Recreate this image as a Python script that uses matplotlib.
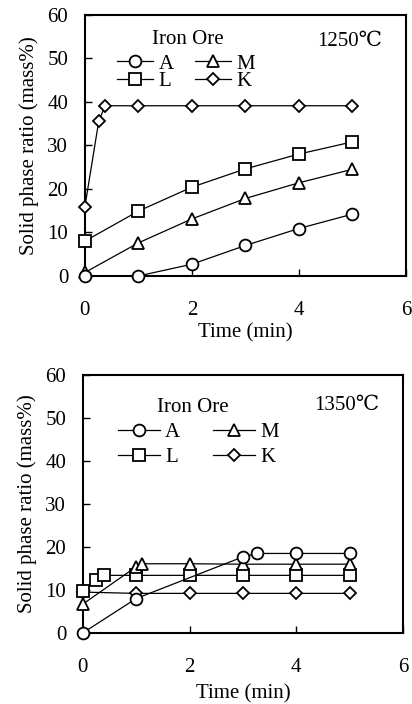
import matplotlib
matplotlib.use("Agg")
import matplotlib.pyplot as plt
from matplotlib.lines import Line2D

plt.rcParams['font.family'] = ['Liberation Serif', 'DejaVu Serif']

# ---- data: 1250 C ----
t1250_A = [0, 1, 2, 3, 4, 5]
y1250_A = [0, 0, 2.7, 7.0, 10.9, 14.2]
t1250_M = [0, 1, 2, 3, 4, 5]
y1250_M = [0.8, 7.6, 13.1, 17.8, 21.4, 24.5]
t1250_L = [0, 1, 2, 3, 4, 5]
y1250_L = [8.0, 14.9, 20.4, 24.6, 28.0, 30.8]
t1250_K = [0, 0.26, 0.38, 1, 2, 3, 4, 5]
y1250_K = [15.9, 35.6, 39.1, 39.1, 39.1, 39.1, 39.1, 39.1]

# ---- data: 1350 C ----
t1350_A = [0, 1, 3, 3.27, 4, 5]
y1350_A = [0, 8.0, 17.7, 18.5, 18.5, 18.5]
t1350_M = [0, 1, 1.1, 2, 3, 4, 5]
y1350_M = [6.7, 15.4, 16.1, 16.1, 16.0, 16.0, 16.0]
t1350_L = [0, 0.25, 0.4, 1, 2, 3, 4, 5]
y1350_L = [9.8, 12.3, 13.4, 13.4, 13.4, 13.4, 13.4, 13.4]
t1350_K = [0, 1, 2, 3, 4, 5]
y1350_K = [9.5, 9.2, 9.2, 9.2, 9.2, 9.2]

series_names = ['A', 'M', 'L', 'K']
markers = {'A': ('o', 8.5), 'M': ('^', 8.5), 'L': ('s', 8), 'K': ('D', 6.5)}
xticks = [0, 2, 4, 6]
yticks = [0, 10, 20, 30, 40, 50, 60]
legend_title = 'Iron Ore'
temps = ['1250\u2103', '1350\u2103']

FS = 15

fig = plt.figure(figsize=(4.12, 7.04), dpi=100)
ax1 = fig.add_axes([0.206, 0.608, 0.779, 0.371])
ax2 = fig.add_axes([0.201, 0.101, 0.777, 0.366])

panels = [
    dict(ax=ax1, data={'A': (t1250_A, y1250_A), 'M': (t1250_M, y1250_M),
                       'L': (t1250_L, y1250_L), 'K': (t1250_K, y1250_K)},
         label=temps[0], ty=0.897, title_xy=(0.32, 0.904),
         bbox=(0.10, 0.850), lspace=-0.1, hlen=1.75, cspace=1.0, xlpad=2),
    dict(ax=ax2, data={'A': (t1350_A, y1350_A), 'M': (t1350_M, y1350_M),
                       'L': (t1350_L, y1350_L), 'K': (t1350_K, y1350_K)},
         label=temps[1], ty=0.884, title_xy=(0.344, 0.876),
         bbox=(0.11, 0.815), lspace=0.25, hlen=2.0, cspace=1.6, xlpad=5),
]

for p in panels:
    ax = p['ax']
    data = p['data']
    for name in ['K', 'L', 'M', 'A']:
        t, y = data[name]
        m, ms = markers[name]
        ax.plot(t, y, color='black', lw=0.9, marker=m, ms=ms,
                mfc='white', mec='black', mew=1.3, clip_on=False, zorder=3)
    ax.set_xlim(0, 6)
    ax.set_ylim(0, 60)
    ax.set_xticks(xticks)
    ax.set_yticks(yticks)
    ax.tick_params(direction='in', length=5, width=1, labelsize=FS)
    ax.tick_params(axis='x', pad=18)
    ax.tick_params(axis='y', pad=12)
    for sp in ax.spines.values():
        sp.set_linewidth(1.5)
    ax.set_xlabel('Time (min)', fontsize=FS, labelpad=p['xlpad'])
    ax.set_ylabel('Solid phase ratio (mass%)', fontsize=FS, labelpad=6)
    ax.text(0.925, p['ty'], p['label'], transform=ax.transAxes, ha='right',
            va='center', fontsize=FS)
    ax.text(p['title_xy'][0], p['title_xy'][1], legend_title,
            transform=ax.transAxes, ha='center', va='center', fontsize=FS)
    handles = []
    for name in ['A', 'L', 'M', 'K']:
        m, ms = markers[name]
        handles.append(Line2D([], [], color='black', lw=0.9, marker=m, ms=ms,
                              mfc='white', mec='black', mew=1.3, label=name))
    ax.legend(handles=handles, ncol=2, frameon=False,
              loc='upper left', bbox_to_anchor=p['bbox'], fontsize=FS,
              handlelength=p['hlen'], handletextpad=0.25,
              columnspacing=p['cspace'], labelspacing=p['lspace'],
              borderpad=0, borderaxespad=0)

fig.savefig('out.png', dpi=100)
